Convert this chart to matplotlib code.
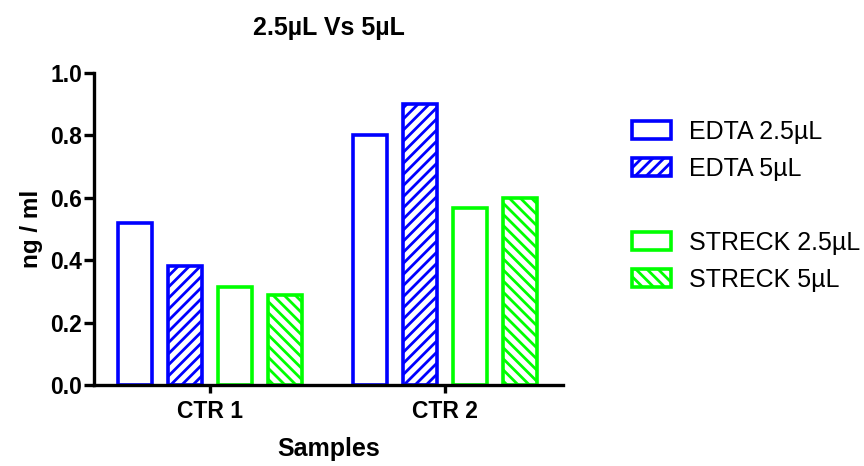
import matplotlib
matplotlib.use("Agg")
import matplotlib.pyplot as plt
from matplotlib.patches import Patch
import numpy as np

plt.rcParams['font.family'] = ['Liberation Sans', 'DejaVu Sans']
plt.rcParams['hatch.linewidth'] = 2.0

categories = ["CTR 1", "CTR 2"]
series_names = ["EDTA 2.5µL", "EDTA 5µL", "STRECK 2.5µL", "STRECK 5µL"]
edta_25 = [0.52, 0.80]
edta_5 = [0.38, 0.90]
streck_25 = [0.315, 0.567]
streck_5 = [0.288, 0.60]
series_values = [edta_25, edta_5, streck_25, streck_5]
colors = ["#0000FF", "#0000FF", "#00FF00", "#00FF00"]
hatches = [None, "///", None, "\\\\\\"]
yticks = [0.0, 0.2, 0.4, 0.6, 0.8, 1.0]

fig = plt.figure(figsize=(8.64, 4.66), dpi=100)
ax = fig.add_axes([94/864, 1-385/466, (563-94)/864, (385-73)/466])

x = np.arange(len(categories))
width = 34/235
step = 50/235
offsets = (np.arange(4) - 1.5) * step
handles = []
for i, (name, vals) in enumerate(zip(series_names, series_values)):
    ax.bar(x + offsets[i], vals, width=width, facecolor="white",
           edgecolor=colors[i], linewidth=2.6, hatch=hatches[i], label=name,
           zorder=2)
    handles.append(Patch(facecolor="white", edgecolor=colors[i], linewidth=2.6,
                         hatch=hatches[i], label=name))

ax.set_xlim((94-210)/235, (563-210)/235)
ax.set_ylim(0, 1.0)
ax.set_yticks(yticks)
ax.set_yticklabels([f"{v:.1f}" for v in yticks])
ax.set_xticks(x)
ax.set_xticklabels(categories)
for s in ["top", "right"]:
    ax.spines[s].set_visible(False)
for s in ["left", "bottom"]:
    ax.spines[s].set_linewidth(2.4)
    ax.spines[s].set_zorder(3)
ax.tick_params(axis='y', which='major', direction='out', length=7.5, width=2.4,
               labelsize=16.5, pad=1)
ax.tick_params(axis='x', which='major', direction='out', length=6, width=2.4,
               labelsize=16.5, pad=5)
for lab in ax.get_xticklabels() + ax.get_yticklabels():
    lab.set_fontweight('bold')

ax.set_xlabel("Samples", fontsize=18, fontweight='bold', labelpad=10)
ax.set_ylabel("ng / ml", fontsize=17.5, fontweight='bold', labelpad=5)
fig.text(329/864, 1-28/466, "2.5µL Vs 5µL", ha='center', va='center',
         fontsize=18, fontweight='bold')

blank = Patch(facecolor='none', edgecolor='none', label=' ')
leg_handles = [handles[0], handles[1], blank, handles[2], handles[3]]
leg_labels = [series_names[0], series_names[1], " ", series_names[2], series_names[3]]
fs = 18
fig.legend(leg_handles, leg_labels, loc='upper left',
           bbox_to_anchor=(632/864, 1-120/466), frameon=False,
           fontsize=fs, handlelength=1.55, handleheight=0.72,
           labelspacing=0.52, handletextpad=0.72, borderaxespad=0, borderpad=0)

fig.savefig("out.png", dpi=100)
